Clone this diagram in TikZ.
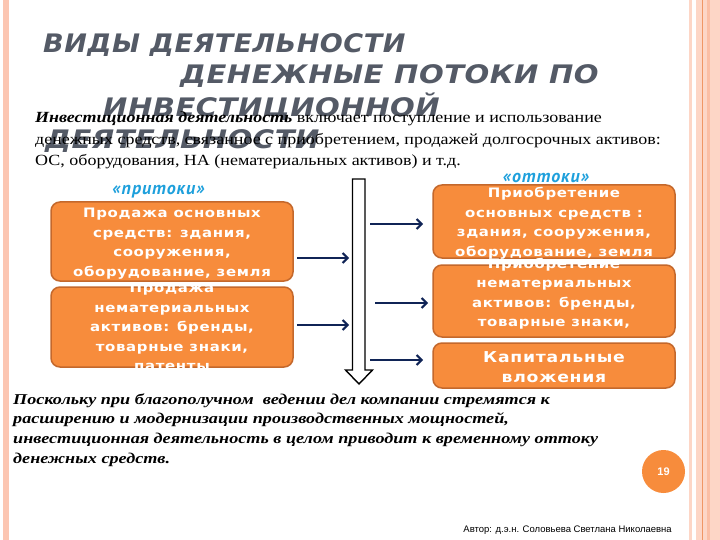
\documentclass[tikz,border=0pt]{standalone}
\usepackage{fontspec}
\usetikzlibrary{arrows.meta}
\setmainfont{Liberation Serif}
\newfontfamily\titlefontA[FakeStretch=1.06,LetterSpace=2]{DejaVu Sans}
\newfontfamily\titlefontB[FakeStretch=1.14,LetterSpace=2]{DejaVu Sans}
\newfontfamily\boxfont[FakeStretch=1.15,LetterSpace=5]{DejaVu Sans}
\newfontfamily\bodyfont[FakeStretch=1.16]{Liberation Serif}
\newfontfamily\notefont[FakeStretch=1.21]{Liberation Serif}
\newfontfamily\labelfont[LetterSpace=5]{PT Sans}
\newfontfamily\authorfont{Liberation Sans}
\definecolor{stripeA}{RGB}{252,198,178}
\definecolor{stripeB}{RGB}{253,214,198}
\definecolor{stripeC}{RGB}{240,150,100}
\definecolor{stripeD}{RGB}{251,190,164}
\definecolor{titlegray}{RGB}{84,90,102}
\definecolor{boxorange}{RGB}{247,140,60}
\definecolor{boxedge}{RGB}{196,104,44}
\definecolor{navy}{RGB}{16,36,86}
\definecolor{labelblue}{RGB}{30,160,220}
\tikzset{
  ttl/.style={anchor=base west,inner sep=0,text=titlegray,font=\titlefontB\bfseries\itshape\fontsize{25.5}{30}\selectfont},
  bodyline/.style={anchor=base west,inner sep=0,font=\bodyfont\fontsize{15.5}{20}\selectfont},
  noteline/.style={anchor=base west,inner sep=0,font=\notefont\bfseries\itshape\fontsize{15}{20}\selectfont},
  obox/.style={draw=boxedge,line width=1.5pt,fill=boxorange,rounded corners=9pt,inner sep=0},
  otext/.style={text=white,align=center,inner sep=0,font=\boxfont\bfseries\fontsize{13}{19.5}\selectfont},
  flow/.style={draw=navy,line width=2.6pt,-{Straight Barb[length=5pt,width=10pt,line width=2pt]}},
  flowlabel/.style={anchor=base,inner sep=0,text=labelblue,font=\labelfont\bfseries\itshape\fontsize{18}{20}\selectfont}
}
\begin{document}
\begin{tikzpicture}[x=1pt,y=-1pt]
\useasboundingbox (0,0) rectangle (720,540);
\fill[white] (0,0) rectangle (720,540);
% frame stripes
\fill[stripeA] (3,0) rectangle (9,540);
\fill[stripeB] (689,0) rectangle (692,540);
\fill[stripeB] (696,0) rectangle (720,540);
\fill[stripeC] (702,0) rectangle (703.3,540);
\fill[stripeD] (707,0) rectangle (710,540);
% title
\node[ttl,font=\titlefontA\bfseries\itshape\fontsize{25.5}{30}\selectfont] (t1) at (43,53) {ВИДЫ ДЕЯТЕЛЬНОСТИ};
\node[ttl] (t2) at (180,84) {ДЕНЕЖНЫЕ ПОТОКИ ПО};
\node[ttl] (t3) at (103,117) {ИНВЕСТИЦИОННОЙ};
\node[ttl] (t4) at (45,149) {ДЕЯТЕЛЬНОСТИ};
% intro text
\node[bodyline] (b1) at (35,123) {\textbf{\textit{Инвестиционная деятельность}} включает поступление и использование};
\node[bodyline] (b2) at (35,145) {денежных средств, связанное с приобретением, продажей долгосрочных активов:};
\node[bodyline] (b3) at (35,166) {ОС, оборудования, НА (нематериальных активов) и т.д.};
% labels
\node[flowlabel] (inl) at (158.5,195) {«притоки»};
\node[flowlabel] (outl) at (546,183) {«оттоки»};
% left boxes
\node[obox,minimum width=242pt,minimum height=79pt] (l1) at (172,241.5) {};
\node[otext] (l1t) at (172,243.5) {Продажа основных\\средств: здания,\\сооружения,\\оборудование, земля};
\node[obox,minimum width=242pt,minimum height=80pt] (l2) at (172,327) {};
\node[otext] (l2t) at (172,327) {Продажа\\нематериальных\\активов: бренды,\\товарные знаки,\\патенты};
% right boxes
\node[obox,minimum width=242pt,minimum height=73pt] (r1) at (554,221.5) {};
\node[otext] (r1t) at (554,223.5) {Приобретение\\основных средств :\\здания, сооружения,\\оборудование, земля};
\node[obox,minimum width=242pt,minimum height=72pt] (r2) at (554,301) {};
\node[otext] (r2t) at (554,302) {Приобретение\\нематериальных\\активов: бренды,\\товарные знаки,\\патенты};
\node[obox,minimum width=242pt,minimum height=45pt] (r3) at (554,365.5) {};
\node[otext,font=\boxfont\bfseries\fontsize{15}{20}\selectfont] (r3t) at (554,367) {Капитальные\\вложения};
% big hollow arrow
\draw[black,line width=1.4pt,fill=white,line join=miter]
  (352.5,179) -- (365,179) -- (365,370) -- (372.5,370) -- (359,384) -- (345.5,370) -- (352.5,370) -- cycle;
% small arrows
\coordinate (a1s) at (297,258); \coordinate (a1e) at (349,258);
\coordinate (a2s) at (297,325); \coordinate (a2e) at (349,325);
\coordinate (a3s) at (370,224); \coordinate (a3e) at (423,224);
\coordinate (a4s) at (375,303); \coordinate (a4e) at (428,303);
\coordinate (a5s) at (370,360); \coordinate (a5e) at (423,360);
\draw[flow] (a1s) -- (a1e);
\draw[flow] (a2s) -- (a2e);
\draw[flow] (a3s) -- (a3e);
\draw[flow] (a4s) -- (a4e);
\draw[flow] (a5s) -- (a5e);
% bottom note
\node[noteline] (n1) at (13,404) {Поскольку при благополучном\ \ ведении дел компании стремятся к};
\node[noteline] (n2) at (13,423) {расширению и модернизации производственных мощностей,};
\node[noteline] (n3) at (13,443) {инвестиционная деятельность в целом приводит к временному оттоку};
\node[noteline] (n4) at (13,463) {денежных средств.};
% page number
\node[circle,fill=boxorange,minimum size=43pt,inner sep=0,text=white,font=\authorfont\bfseries\fontsize{11}{13}\selectfont] (pg) at (663.5,471.5) {19};
% author
\node[anchor=base east,inner sep=0,font=\authorfont\fontsize{9.5}{11}\selectfont] (auth) at (672,532) {Автор: д.э.н. Соловьева Светлана Николаевна};
\end{tikzpicture}
\end{document}
